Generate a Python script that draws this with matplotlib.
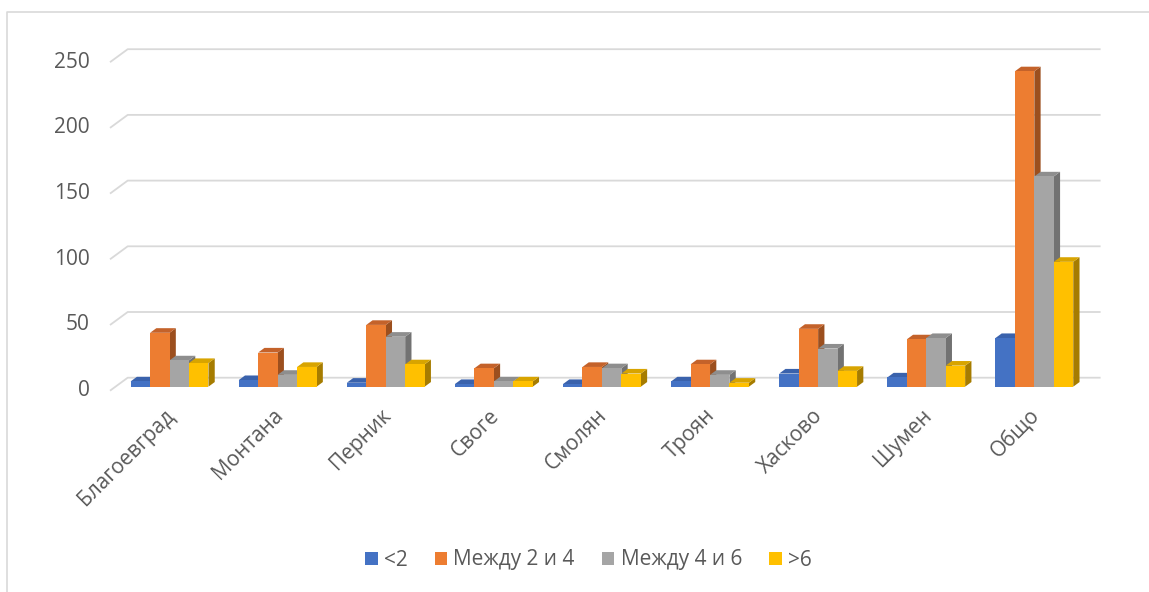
import matplotlib
matplotlib.use("Agg")
import matplotlib.pyplot as plt
from matplotlib.patches import Polygon, Patch
from matplotlib.lines import Line2D

# ---- data ----
categories = ["Благоевград", "Монтана", "Перник", "Своге", "Смолян",
              "Троян", "Хасково", "Шумен", "Общо"]
series_names = ["<2", "Между 2 и 4", "Между 4 и 6", ">6"]
less_2 = [4, 5, 3, 2, 2, 4, 10, 7, 37]
between_2_4 = [41, 26, 47, 14, 15, 17, 44, 36, 240]
between_4_6 = [20, 9, 38, 4, 14, 9, 29, 37, 160]
over_6 = [18, 15, 17, 4, 10, 3, 12, 16, 95]
y_ticks = [0, 50, 100, 150, 200, 250]

series = [less_2, between_2_4, between_4_6, over_6]

front_colors = ["#4472C4", "#ED7D31", "#A5A5A5", "#FFC000"]
top_colors = ["#3A62AC", "#C4622A", "#8E8E8E", "#D8A400"]
side_colors = ["#2F5597", "#9C4F1E", "#727272", "#A67C00"]
text_color = "#595959"
grid_color = "#D9D9D9"

plt.rcParams["font.family"] = ["Open Sans", "DejaVu Sans"]

W, H = 1149, 592
fig = plt.figure(figsize=(W / 100, H / 100), dpi=100)
ax = fig.add_axes([0, 0, 1, 1])
ax.axis("off")

# plot geometry: category slots along x, values along y
x0_px, slot_px = 110.0, 108.1
y0_px, unit_px = 390.7, 1.314
ax.set_xlim(-x0_px / slot_px, (W - x0_px) / slot_px)
ax.set_ylim(-(H - y0_px) / unit_px, y0_px / unit_px)

DX = 17.7 / slot_px   # full floor depth, x direction
DY = 13.0 / unit_px   # full floor depth, y direction
n_cat = len(categories)

# back wall gridlines with the slanted side-wall stubs
for v in y_ticks:
    ax.plot([0, DX, n_cat + DX], [v, v + DY, v + DY],
            color=grid_color, lw=1.3, solid_capstyle="butt", zorder=1)
    ax.text(-0.19, v, str(v), ha="right", va="center",
            fontsize=15, color=text_color)

# 3D-looking columns
d_front, d_back = 0.31, 0.665
gap, bar_w = 0.14, 0.18
z = 2
for i in range(n_cat):
    for j, vals in enumerate(series):
        v = vals[i]
        xl = i + gap + j * bar_w
        xr = xl + bar_w
        fx, fy = d_front * DX, d_front * DY
        bx, by = d_back * DX, d_back * DY
        side = [(xr + fx, fy), (xr + bx, by), (xr + bx, v + by), (xr + fx, v + fy)]
        top = [(xl + fx, v + fy), (xr + fx, v + fy), (xr + bx, v + by), (xl + bx, v + by)]
        front = [(xl + fx, fy), (xr + fx, fy), (xr + fx, v + fy), (xl + fx, v + fy)]
        ax.add_patch(Polygon(side, closed=True, fc=side_colors[j], ec="none", zorder=z))
        ax.add_patch(Polygon(top, closed=True, fc=top_colors[j], ec="none", zorder=z))
        ax.add_patch(Polygon(front, closed=True, fc=front_colors[j], ec="none", zorder=z))
        z += 1

# category labels
for i, name in enumerate(categories):
    ax.text(i + 0.5, -11, name, rotation=45, rotation_mode="anchor",
            ha="right", va="top", fontsize=15, color=text_color)

# legend
handles = [Patch(facecolor=c, edgecolor="none") for c in front_colors]
fig.legend(handles, series_names, loc="center", bbox_to_anchor=(0.512, 1 - 560 / H),
           ncol=4, frameon=False, fontsize=15, handlelength=0.6, handleheight=0.6,
           handletextpad=0.3, columnspacing=1.3, labelcolor=text_color)

# chart border
fig.add_artist(Line2D([7 / W, 7 / W, 1], [0, 1 - 12 / H, 1 - 12 / H],
                      transform=fig.transFigure, color=grid_color, lw=1.2))

fig.savefig("out.png", dpi=100, facecolor="white")
